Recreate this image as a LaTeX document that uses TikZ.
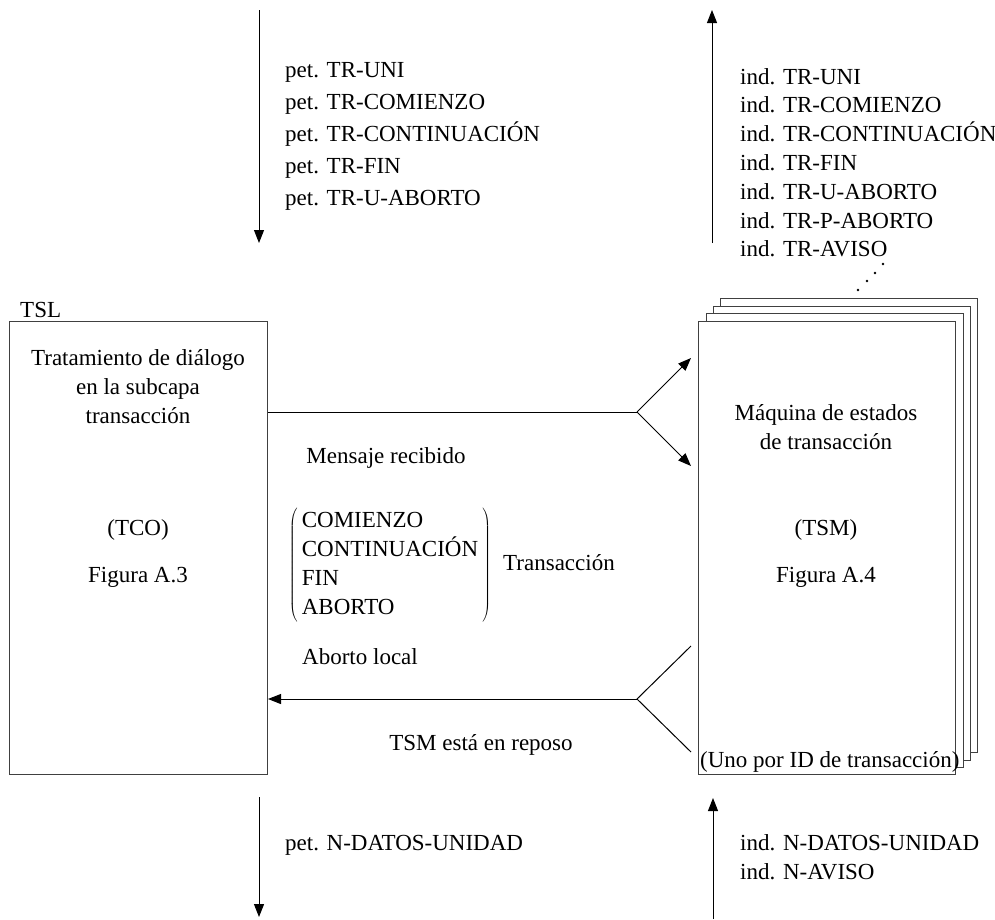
\documentclass[tikz,border=0pt]{standalone}
\usepackage{fontspec}
\setmainfont{Liberation Serif}
\usetikzlibrary{arrows.meta}
\begin{document}
\begin{tikzpicture}[x=1pt,y=-1pt,
  txt/.style={font=\fontsize{23}{29}\selectfont, inner sep=0pt},
  ctxt/.style={txt, align=center},
  box/.style={draw=black!75, line width=1pt, fill=white, inner sep=0pt, anchor=north west},
  conn/.style={line width=1pt},
  arr/.style={conn, -{Triangle[length=13pt,width=10pt]}},
  dot/.style={fill=black, inner sep=0pt, minimum size=2.8pt, circle}]
\useasboundingbox (0,0) rectangle (995,919);

% ---- TCO block ----
\node[box, minimum width=258pt, minimum height=453pt] (tco) at (9,321) {};
\node[txt, anchor=base west] (tsl) at (20,317) {TSL};
\node[ctxt] (tcotitle) at (138,387) {Tratamiento de diálogo\\en la subcapa\\transacción};
\node[txt] (tcoabbr) at (138,530) {(TCO)};
\node[txt] (tcofig) at (138,577) {Figura A.3};

% ---- stacked TSM instances (back to front) ----
\node[box, minimum width=257pt, minimum height=454pt] (tsm4) at (720,298) {};
\node[box, minimum width=257pt, minimum height=454pt] (tsm3) at (713,306) {};
\node[box, minimum width=257pt, minimum height=454pt] (tsm2) at (706,313) {};
\node[box, minimum width=257pt, minimum height=453pt] (tsm) at (698,321) {};
\node[ctxt] (tsmtitle) at (826,427) {Máquina de estados\\de transacción};
\node[txt] (tsmabbr) at (826,530) {(TSM)};
\node[txt] (tsmfig) at (826,577) {Figura A.4};
\node[txt, anchor=base west] (uno) at (700,767) {(Uno por ID de transacción)};

\node[dot] (d1) at (858,290) {};
\node[dot] (d2) at (867,281) {};
\node[dot] (d3) at (875,273) {};
\node[dot] (d4) at (883,264) {};

% ---- primitives at the upper boundary ----
\coordinate (petTop) at (259,10);
\coordinate (petBot) at (259,243);
\draw[arr] (petTop) -- (petBot);
\foreach \t [count=\i] in {TR-UNI,TR-COMIENZO,TR-CONTINUACIÓN,TR-FIN,TR-U-ABORTO}
  \node[txt, anchor=base west] (pet\i) at (285,{77+32*(\i-1)}) {pet. \t};

\coordinate (indBot) at (712,243);
\coordinate (indTop) at (712,10);
\draw[arr] (indBot) -- (indTop);
\foreach \t [count=\i] in {TR-UNI,TR-COMIENZO,TR-CONTINUACIÓN,TR-FIN,TR-U-ABORTO,TR-P-ABORTO,TR-AVISO}
  \node[txt, anchor=base west] (ind\i) at (740,{84+28.8*(\i-1)}) {ind. \t};

% ---- primitives at the lower boundary ----
\coordinate (npetTop) at (259,797);
\coordinate (npetBot) at (259,917);
\draw[arr] (npetTop) -- (npetBot);
\node[txt, anchor=base west] (npet) at (285,850) {pet. N-DATOS-UNIDAD};

\coordinate (nindBot) at (713,919);
\coordinate (nindTop) at (713,798);
\draw[arr] (nindBot) -- (nindTop);
\node[txt, anchor=base west] (nind1) at (740,850) {ind. N-DATOS-UNIDAD};
\node[txt, anchor=base west] (nind2) at (740,879) {ind. N-AVISO};

% ---- received message fan-out ----
\coordinate (split1) at (637,412);
\coordinate (in1) at (691,358);
\coordinate (in2) at (691,466);
\draw[conn] (tco.east |- split1) -- (split1);
\draw[arr] (split1) -- (in1);
\draw[arr] (split1) -- (in2);
\node[txt] (msg) at (386,458) {Mensaje recibido};

% message kinds, bracketed
\node[txt] (kinds) at (390,565) {$\left(\,\begin{tabular}{@{}l@{}}\fontsize{23}{28.5}\selectfont COMIENZO\\CONTINUACIÓN\\FIN\\ABORTO\end{tabular}\,\right)$};
\node[txt, anchor=west] (trans) at (503,563) {Transacción};

% ---- local abort / idle fan-in ----
\coordinate (split2) at (637,699);
\coordinate (out1) at (691,646);
\coordinate (out2) at (691,752);
\draw[conn] (out1) -- (split2) -- (out2);
\draw[arr] (split2) -- (tco.east |- split2);
\node[txt] (abort) at (360,657) {Aborto local};
\node[txt] (idle) at (481,745) {TSM está en reposo};
\end{tikzpicture}
\end{document}
